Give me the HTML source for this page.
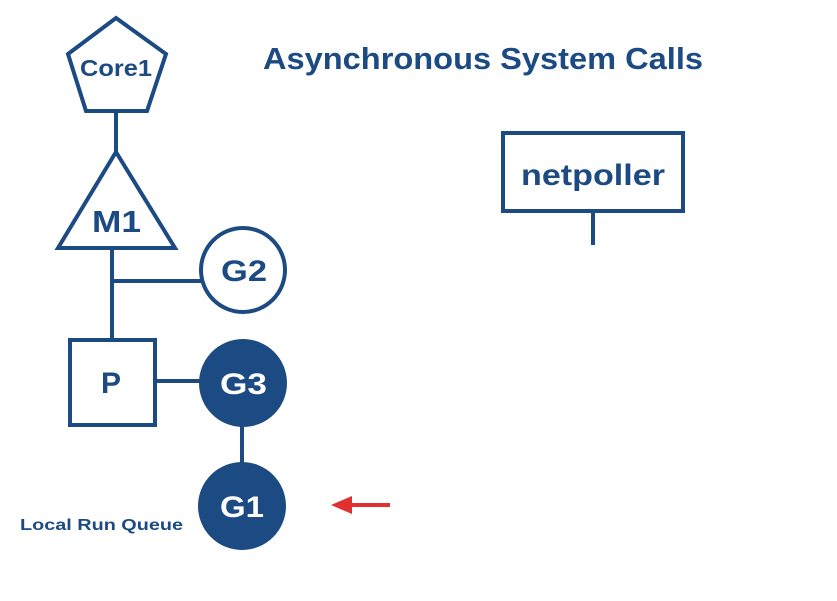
<!DOCTYPE html>
<html><head><style>body{margin:0;background:#fff}svg{display:block}</style></head>
<body>
<svg width="837" height="601" xmlns="http://www.w3.org/2000/svg" font-family="Liberation Sans, sans-serif" font-weight="bold">
<g stroke="#1c4a82" stroke-width="4" fill="none">
<polygon points="116,18 166,54 147,111 86,111 68,54"/>
<line x1="116" y1="111" x2="116" y2="152"/>
<polygon points="116,152 175,248 58,248"/>
<line x1="112" y1="248" x2="112" y2="340"/>
<line x1="112" y1="281" x2="201" y2="281"/>
<circle cx="243" cy="270" r="42"/>
<rect x="70" y="340" width="85" height="85"/>
<line x1="155" y1="381" x2="200" y2="381"/>
<line x1="242" y1="420" x2="242" y2="465"/>
<rect x="503" y="133" width="180" height="78"/>
<line x1="593" y1="211" x2="593" y2="245"/>
</g>
<circle cx="243" cy="383" r="44" fill="#1c4a82"/>
<circle cx="242" cy="506" r="44" fill="#1c4a82"/>
<g fill="#1c4a82">
<text x="80" y="76" font-size="23" textLength="72" lengthAdjust="spacingAndGlyphs">Core1</text>
<text x="92" y="232" font-size="31" textLength="49" lengthAdjust="spacingAndGlyphs">M1</text>
<text x="221" y="281" font-size="30" textLength="46" lengthAdjust="spacingAndGlyphs">G2</text>
<text x="101" y="393" font-size="30">P</text>
<text x="521" y="185" font-size="30" textLength="144" lengthAdjust="spacingAndGlyphs">netpoller</text>
<text x="263" y="69" font-size="31" textLength="440" lengthAdjust="spacingAndGlyphs">Asynchronous System Calls</text>
<text x="20" y="530" font-size="16" textLength="163" lengthAdjust="spacingAndGlyphs">Local Run Queue</text>
</g>
<g fill="#fff" font-size="30">
<text x="220" y="394" textLength="47" lengthAdjust="spacingAndGlyphs">G3</text>
<text x="220" y="517" textLength="44" lengthAdjust="spacingAndGlyphs">G1</text>
</g>
<line x1="390" y1="505" x2="345" y2="505" stroke="#e03030" stroke-width="4"/>
<polygon points="331,505 352,496 352,514" fill="#e03030"/>
</svg>
</body></html>
